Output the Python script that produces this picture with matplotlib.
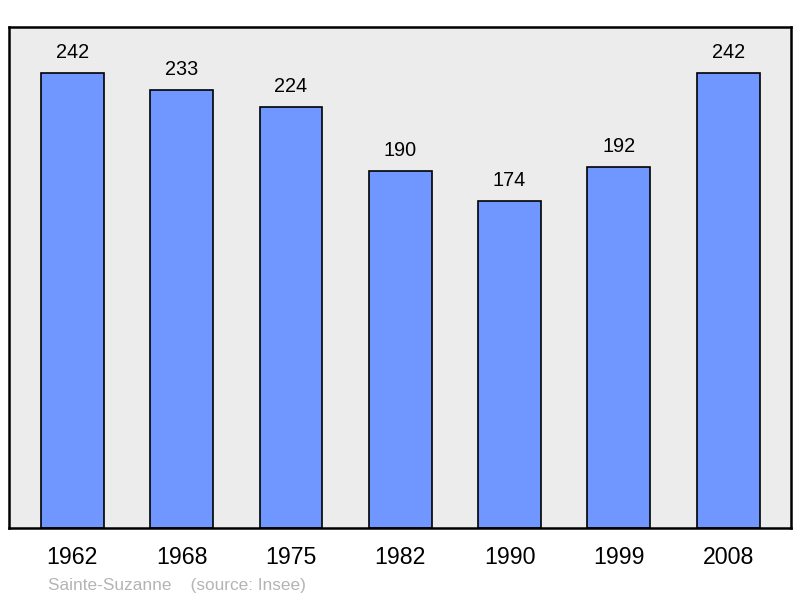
import matplotlib
matplotlib.use("Agg")
import matplotlib.pyplot as plt

years = ["1962", "1968", "1975", "1982", "1990", "1999", "2008"]
population = [242, 233, 224, 190, 174, 192, 242]

plt.rcParams['font.family'] = ['Liberation Sans', 'DejaVu Sans']

fig = plt.figure(figsize=(8, 5.98), dpi=100)
ax = fig.add_axes([9/800, 70/598, 782/800, 501/598])
ax.set_facecolor('#ececec')

x = list(range(len(years)))
ax.bar(x, population, width=0.575, color='#7096ff', edgecolor='black', linewidth=1.2, zorder=2)
for xi, v in zip(x, population):
    ax.annotate(str(v), (xi, v), xytext=(0, 8), textcoords='offset points',
                ha='center', va='bottom', fontsize=14.3, color='black')

ax.set_xlim(-0.58, 6.575)
ax.set_ylim(0, 266.5)
ax.set_xticks(x)
ax.set_xticklabels(years, fontsize=16.7)
ax.tick_params(axis='x', length=0, pad=13)
ax.set_yticks([])
for s in ax.spines.values():
    s.set_linewidth(1.8)
    s.set_color('black')

fig.text(48/800, 1 - 590/598, "Sainte-Suzanne    (source: Insee)", fontsize=12.4,
         color='#b4b4b4', ha='left', va='baseline')

fig.savefig("out.png", dpi=100, facecolor='white')
